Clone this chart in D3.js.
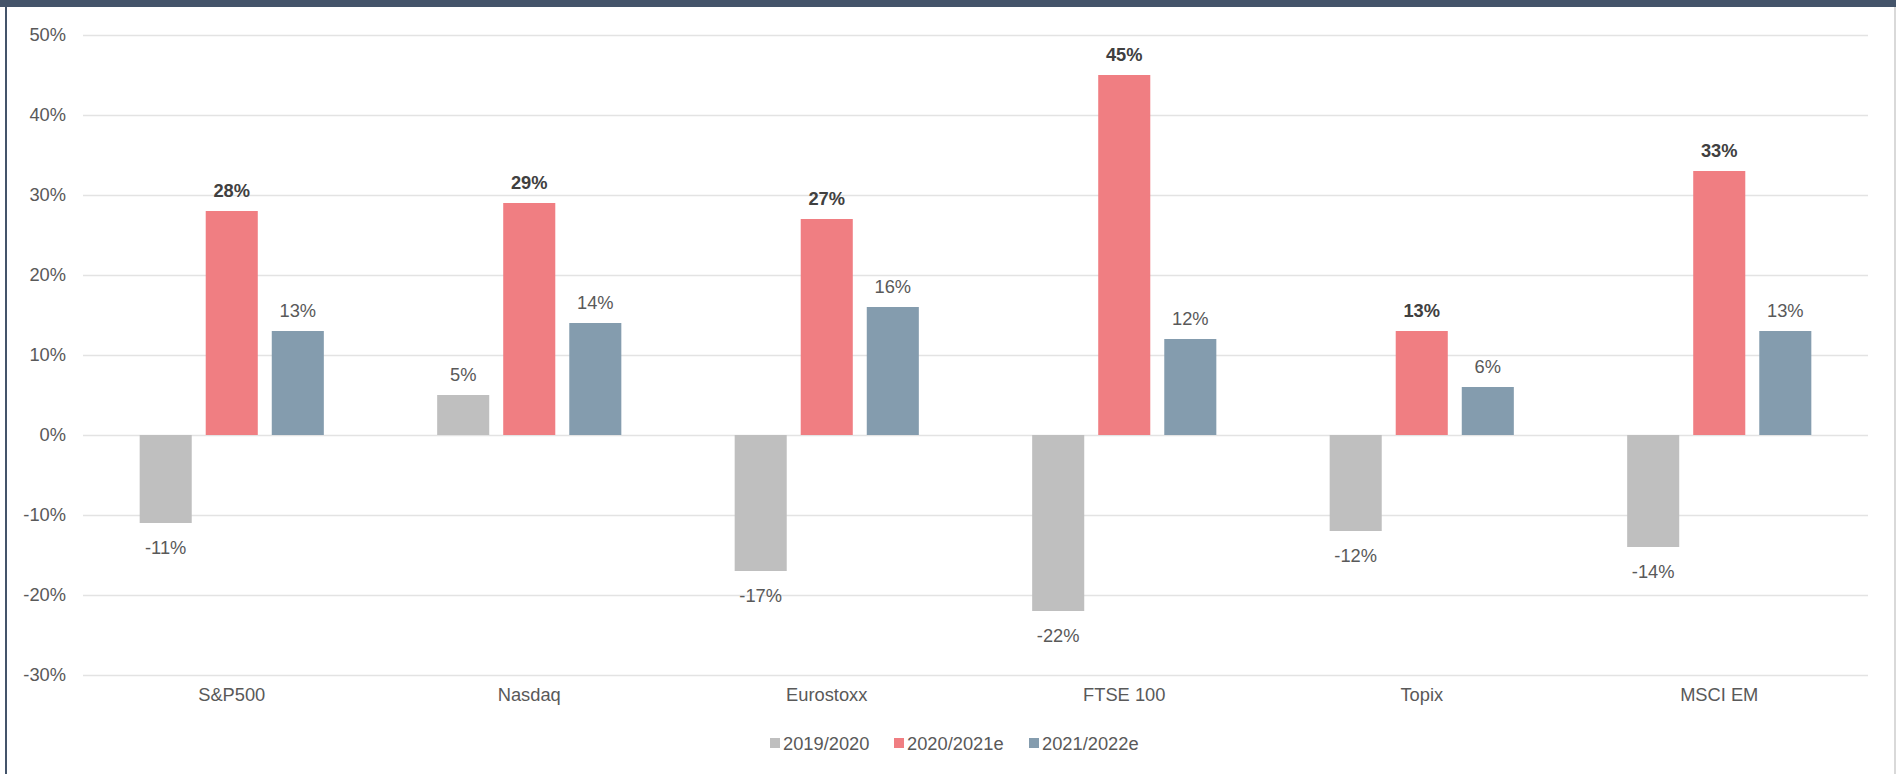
<!DOCTYPE html>
<html>
<head>
<meta charset="utf-8">
<script src="https://cdn.jsdelivr.net/npm/d3@7"></script>
<style>
  html, body { margin: 0; padding: 0; background: #fff; }
  svg { display: block; font-family: "Liberation Sans", Arial, sans-serif; }
</style>
</head>
<body>
<svg id="chart" width="1896" height="774"></svg>
<script>
const categories = ["S&P500", "Nasdaq", "Eurostoxx", "FTSE 100", "Topix", "MSCI EM"];
const seriesNames = ["2019/2020", "2020/2021e", "2021/2022e"];
const values2019 = [-11, 5, -17, -22, -12, -14];
const values2020 = [28, 29, 27, 45, 13, 33];
const values2021 = [13, 14, 16, 12, 6, 13];
const yTicks = [-30, -20, -10, 0, 10, 20, 30, 40, 50];
const colors = ["#bfbfbf", "#f07e82", "#849cae"];

const seriesValues = [values2019, values2020, values2021];
const FS = 18.3;

const svg = d3.select("#chart");
const W = 1896, H = 774;

// frame
svg.append("rect").attr("x", 0).attr("y", 0).attr("width", W).attr("height", 7).attr("fill", "#44546a");
svg.append("rect").attr("x", 5).attr("y", 7).attr("width", 2).attr("height", H - 7).attr("fill", "#44546a");
svg.append("rect").attr("x", 1894).attr("y", 7).attr("width", 2).attr("height", H - 7).attr("fill", "#d9d9d9");

const left = 83, right = 1868;
const y = d3.scaleLinear().domain([-30, 50]).range([675, 35]);
const x = d3.scaleBand().domain(categories).range([left, right]).padding(0);
const bw = x.bandwidth();
const barW = bw * 0.175;
const step = bw * 0.222;

// gridlines
svg.append("g").selectAll("line").data(yTicks).join("line")
  .attr("x1", left).attr("x2", right)
  .attr("y1", d => y(d) + 0.5).attr("y2", d => y(d) + 0.5)
  .attr("stroke", "#e3e3e3").attr("stroke-width", 1.5);

// y axis labels
const yAxis = d3.axisLeft(y).tickValues(yTicks).tickFormat(d => d + "%").tickSize(0).tickPadding(0);
const gy = svg.append("g").attr("transform", `translate(66,0)`).call(yAxis);
gy.select(".domain").remove();
gy.selectAll("text").attr("fill", "#595959").attr("font-size", FS).attr("font-family", "Liberation Sans, Arial, sans-serif");

// x axis labels
const xAxis = d3.axisBottom(x).tickSize(0).tickPadding(0);
const gx = svg.append("g").attr("transform", `translate(0,688)`).call(xAxis);
gx.select(".domain").remove();
gx.selectAll("text").attr("fill", "#595959").attr("font-size", FS).attr("font-family", "Liberation Sans, Arial, sans-serif");

// bars
seriesValues.forEach((vals, si) => {
  const g = svg.append("g");
  const data = categories.map((c, i) => ({ c, v: vals[i] }));
  const bx = d => x(d.c) + bw / 2 - barW / 2 + (si - 1) * step;
  g.selectAll("rect").data(data).join("rect")
    .attr("x", bx)
    .attr("y", d => Math.min(y(d.v), y(0)))
    .attr("width", barW)
    .attr("height", d => Math.abs(y(d.v) - y(0)))
    .attr("fill", colors[si]);
  g.selectAll("text").data(data).join("text")
    .attr("x", d => bx(d) + barW / 2)
    .attr("y", d => d.v >= 0 ? y(d.v) - 14 : y(d.v) + 31)
    .attr("text-anchor", "middle")
    .attr("font-size", FS)
    .attr("font-weight", si === 1 ? "bold" : "normal")
    .attr("fill", si === 1 ? "#404040" : "#595959")
    .text(d => d.v + "%");
});

// legend
const legendItems = [
  { name: seriesNames[0], x: 770 },
  { name: seriesNames[1], x: 894 },
  { name: seriesNames[2], x: 1029 }
];
const lg = svg.append("g");
legendItems.forEach((it, i) => {
  lg.append("rect").attr("x", it.x).attr("y", 738).attr("width", 10).attr("height", 10).attr("fill", colors[i]);
  lg.append("text").attr("x", it.x + 13).attr("y", 749.5)
    .attr("font-size", FS).attr("fill", "#595959").text(it.name);
});
</script>
</body>
</html>
